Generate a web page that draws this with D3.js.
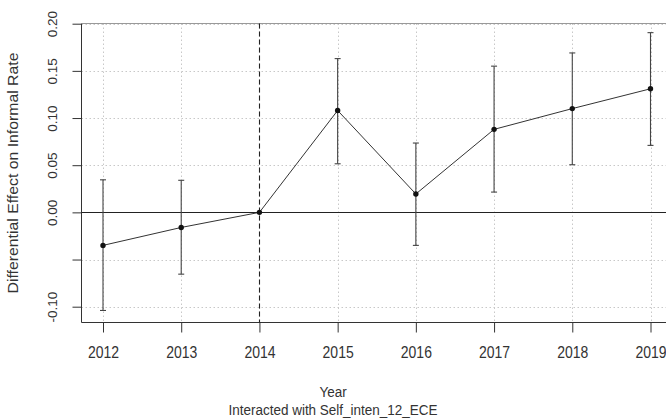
<!DOCTYPE html>
<html>
<head>
<meta charset="utf-8">
<script src="https://cdn.jsdelivr.net/npm/d3@7"></script>
<style>
  html, body { margin: 0; padding: 0; background: #fff; }
  svg { display: block; }
  text { font-family: "Liberation Sans", Arial, sans-serif; fill: #333; }
</style>
</head>
<body>
<svg id="chart" width="666" height="419"></svg>
<script>
// Event-study estimates by year (2014 is the reference year)
const years = [2012, 2013, 2014, 2015, 2016, 2017, 2018, 2019];
const estimates = [-0.035, -0.016, 0.0, 0.108, 0.0195, 0.088, 0.110, 0.131];
const ciLower = [-0.104, -0.0655, 0.0, 0.0515, -0.035, 0.0215, 0.0505, 0.071];
const ciUpper = [0.0345, 0.034, 0.0, 0.163, 0.0735, 0.155, 0.169, 0.1905];
const yTicks = [-0.10, -0.05, 0.00, 0.05, 0.10, 0.15, 0.20];
const yTickLabels = ["-0.10", "", "0.00", "0.05", "0.10", "0.15", "0.20"];
const refYear = 2014;

const svg = d3.select("#chart");
const plotLeft = 81.5, plotTop = 23.5, plotBottom = 322.5, plotRight = 700;
const stretch = 1.13; // glyphs are drawn slightly taller than wide

const x = d3.scaleLinear().domain([2012, 2019]).range([103, 650.5]);
const y = d3.scaleLinear().domain([-0.10, 0.20]).range([306.7, 23.7]);
const snap = v => Math.round(v) + 0.5;

// dotted grid
const grid = svg.append("g").attr("stroke", "#c8c8c8").attr("stroke-dasharray", "1.5,2.5").attr("stroke-width", 1);
grid.selectAll("line.h").data(yTicks).join("line").attr("class", "h")
  .attr("x1", plotLeft).attr("x2", plotRight)
  .attr("y1", d => snap(y(d))).attr("y2", d => snap(y(d)));
grid.selectAll("line.v").data(years).join("line").attr("class", "v")
  .attr("y1", plotTop).attr("y2", plotBottom)
  .attr("x1", d => snap(x(d))).attr("x2", d => snap(x(d)));

// plot box
svg.append("path")
  .attr("d", `M${plotRight},${plotBottom}H${plotLeft}V${plotTop}`)
  .attr("fill", "none").attr("stroke", "#333").attr("stroke-width", 1);
svg.append("line").attr("x1", plotLeft).attr("x2", plotRight).attr("y1", plotTop).attr("y2", plotTop)
  .attr("stroke", "#999").attr("stroke-width", 1.2);

// y axis with rotated labels
const yAxis = d3.axisLeft(y).tickValues(yTicks).tickSize(9).tickFormat((d, i) => yTickLabels[i]);
const gy = svg.append("g").attr("transform", `translate(${plotLeft},0)`).call(yAxis);
gy.select(".domain").remove();
gy.selectAll(".tick line").attr("stroke", "#333");
gy.selectAll(".tick text")
  .attr("font-size", 13.5).attr("fill", "#333")
  .attr("text-anchor", "middle")
  .attr("x", 0).attr("y", 0).attr("dy", "0.35em")
  .attr("transform", "translate(-29,0) rotate(-90)");

// x axis
const xAxis = d3.axisBottom(x).tickValues(years).tickSize(10).tickFormat(d3.format("d"));
const gx = svg.append("g").attr("transform", `translate(0,${plotBottom})`).call(xAxis);
gx.select(".domain").remove();
gx.selectAll(".tick line").attr("stroke", "#333");
gx.selectAll(".tick text").attr("font-size", 14).attr("fill", "#333")
  .attr("y", 0).attr("dy", 0)
  .attr("transform", `translate(0,35) scale(1,${stretch})`);

// reference lines
svg.append("line")
  .attr("x1", plotLeft).attr("x2", plotRight)
  .attr("y1", snap(y(0))).attr("y2", snap(y(0)))
  .attr("stroke", "#222").attr("stroke-width", 1.1);
svg.append("line")
  .attr("x1", snap(x(refYear))).attr("x2", snap(x(refYear)))
  .attr("y1", plotTop).attr("y2", plotBottom)
  .attr("stroke", "#222").attr("stroke-width", 1.1).attr("stroke-dasharray", "5,3");

// error bars
const data = years.map((yr, i) => ({ yr, est: estimates[i], lo: ciLower[i], hi: ciUpper[i] }));
const eb = svg.append("g").attr("stroke", "#444").attr("stroke-width", 1.1);
const bars = data.filter(d => d.hi !== d.lo);
eb.selectAll("line.v").data(bars).join("line").attr("class", "v")
  .attr("x1", d => x(d.yr)).attr("x2", d => x(d.yr))
  .attr("y1", d => y(d.lo)).attr("y2", d => y(d.hi));
eb.selectAll("line.t").data(bars).join("line").attr("class", "t")
  .attr("x1", d => x(d.yr) - 3).attr("x2", d => x(d.yr) + 3)
  .attr("y1", d => y(d.hi)).attr("y2", d => y(d.hi));
eb.selectAll("line.b").data(bars).join("line").attr("class", "b")
  .attr("x1", d => x(d.yr) - 3).attr("x2", d => x(d.yr) + 3)
  .attr("y1", d => y(d.lo)).attr("y2", d => y(d.lo));

// estimate line + points
svg.append("path").datum(data)
  .attr("d", d3.line().x(d => x(d.yr)).y(d => y(d.est)))
  .attr("fill", "none").attr("stroke", "#333").attr("stroke-width", 1);
svg.selectAll("circle.pt").data(data).join("circle").attr("class", "pt")
  .attr("cx", d => x(d.yr)).attr("cy", d => y(d.est)).attr("r", 2.7)
  .attr("fill", "#111");

// axis titles
svg.append("text").attr("transform", `translate(333,397) scale(1,${stretch})`)
  .attr("text-anchor", "middle").attr("font-size", 13.5).text("Year");
svg.append("text").attr("transform", `translate(333,414.5) scale(1,${stretch})`)
  .attr("text-anchor", "middle").attr("font-size", 13.5).text("Interacted with Self_inten_12_ECE");
svg.append("text")
  .attr("transform", `translate(18,${(plotTop + plotBottom) / 2}) scale(1,${stretch}) rotate(-90)`)
  .attr("text-anchor", "middle").attr("font-size", 14)
  .text("Differential Effect on Informal Rate");
</script>
</body>
</html>
